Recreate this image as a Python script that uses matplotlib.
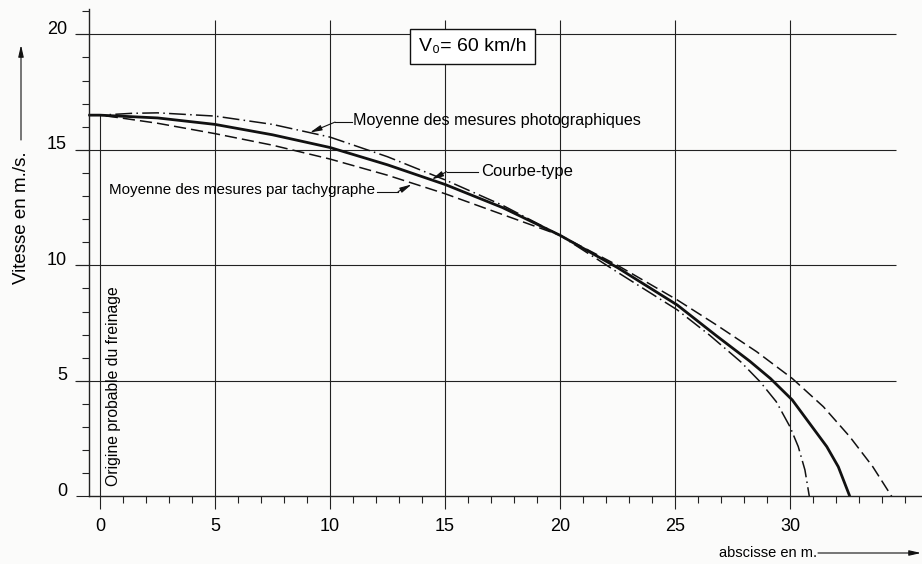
import numpy as np
import matplotlib.pyplot as plt
from matplotlib.ticker import MultipleLocator, FixedLocator
from matplotlib.transforms import ScaledTranslation

plt.rcParams['font.family'] = ['Liberation Sans', 'DejaVu Sans']

# valeurs (abscisse en m, vitesse en m/s)
x_type = [-0.5, 0, 2.5, 5, 7.5, 10, 12.5, 15, 17.5, 20, 22.5, 25.1, 26.8, 28.25, 29.15, 30.1, 30.85, 31.6, 32.1, 32.6]
v_type = [16.5, 16.5, 16.38, 16.1, 15.65, 15.1, 14.35, 13.5, 12.5, 11.3, 9.9, 8.28, 6.95, 5.85, 5.1, 4.17, 3.16, 2.15, 1.28, 0]

x_photo = [-0.5, 0, 1.4, 2.5, 5, 7.5, 10, 12.5, 15, 17.5, 20, 22.5, 25.1, 26.5, 27.85, 28.7, 29.4, 30.0, 30.36, 30.65, 30.84]
v_photo = [16.5, 16.5, 16.58, 16.6, 16.46, 16.1, 15.55, 14.7, 13.7, 12.6, 11.3, 9.7, 8.07, 6.98, 5.83, 4.96, 4.1, 3.01, 2.15, 1.14, 0]

x_tachy = [-0.5, 0, 0.9, 2.5, 5, 7.5, 10, 12.5, 15, 17.5, 20, 22.5, 25.1, 26.8, 28.55, 30.1, 31.45, 32.6, 33.6, 34.42]
v_tachy = [16.5, 16.5, 16.38, 16.15, 15.7, 15.2, 14.6, 13.9, 13.1, 12.2, 11.3, 10.0, 8.5, 7.42, 6.26, 5.1, 3.88, 2.58, 1.28, 0]

xticks = [0, 5, 10, 15, 20, 25, 30]
yticks = [0, 5, 10, 15, 20]

fig = plt.figure(figsize=(9.22, 5.64), dpi=100, facecolor='#fbfbfa')
ax = fig.add_axes([88.5 / 922, (564 - 496.3) / 564, (922 - 88.5) / 922, (496.3 - 8.9) / 564])
ax.set_facecolor('none')
ax.set_xlim(-0.5, 35.74)
ax.set_ylim(0, 21.1)

for s in ['top', 'right']:
    ax.spines[s].set_visible(False)
for s in ['left', 'bottom']:
    ax.spines[s].set_linewidth(1.0)
    ax.spines[s].set_color('#222222')

ax.xaxis.set_major_locator(FixedLocator(xticks))
ax.yaxis.set_major_locator(FixedLocator(yticks))
ax.xaxis.set_minor_locator(MultipleLocator(1))
ax.yaxis.set_minor_locator(MultipleLocator(1))
ax.tick_params(which='major', length=9.4, width=0.8, color='#222222', labelsize=13, pad=6)
ax.tick_params(which='minor', length=5.2, width=0.8, color='#222222')
ax.tick_params(axis='x', which='major', pad=6)
ax.set_xticklabels([str(t) for t in xticks])
ax.set_yticklabels([str(t) for t in yticks])
for lbl in ax.get_yticklabels():
    lbl.set_transform(lbl.get_transform() + ScaledTranslation(0, 7 / 100, fig.dpi_scale_trans))

# quadrillage
ax.hlines(yticks[1:], -1.1, 34.6, color='#222222', lw=0.8, clip_on=False)
ax.vlines(xticks[1:], 0, 20.6, color='#222222', lw=0.8)
ax.vlines(0, 0, 16.5, color='#222222', lw=0.8)

# courbes
ax.plot(x_type, v_type, color='#111111', lw=2.0, clip_on=False, solid_capstyle='butt',
        solid_joinstyle='round')
ax.plot(x_photo, v_photo, color='#111111', lw=1.1, dashes=(11, 2.8, 1, 2.8), clip_on=False)
ax.plot(x_tachy, v_tachy, color='#111111', lw=1.1, dashes=(8, 3.3), clip_on=False)

arrow = dict(arrowstyle='-|>,head_length=0.7,head_width=0.16', color='#111111', lw=0.8,
             shrinkA=0, shrinkB=0)

# Moyenne des mesures photographiques
ax.plot([10.96, 10.22], [16.2, 16.2], color='#111111', lw=0.8)
ax.annotate('', xy=(9.13, 15.75), xytext=(10.22, 16.2), arrowprops=arrow)
ax.text(11.0, 16.25, 'Moyenne des mesures photographiques', fontsize=11.6, ha='left', va='center')

# Courbe-type
ax.plot([16.45, 15.07], [14.05, 14.05], color='#111111', lw=0.8)
ax.annotate('', xy=(14.42, 13.72), xytext=(15.07, 14.05), arrowprops=arrow)
ax.text(16.55, 14.05, 'Courbe-type', fontsize=12, ha='left', va='center')

# Moyenne des mesures par tachygraphe
ax.plot([12.04, 12.96], [13.19, 13.19], color='#111111', lw=0.8)
ax.annotate('', xy=(13.55, 13.5), xytext=(12.96, 13.19), arrowprops=arrow)
ax.text(11.95, 13.25, 'Moyenne des mesures par tachygraphe', fontsize=10.9, ha='right', va='center')

ax.text(0.58, 0.45, 'Origine probable du freinage', rotation=90, fontsize=11.3,
        ha='center', va='bottom')

ax.text(16.2, 19.47, 'V₀= 60 km/h', fontsize=14, ha='center', va='center',
        bbox=dict(boxstyle='square,pad=0.45', fc='white', ec='#111111', lw=1.0))

# titres des axes avec fleches
fig.text(21 / 922, (564 - 218) / 564, 'Vitesse en m./s.', rotation=90, fontsize=13.5,
         ha='center', va='center')
ax.annotate('', xy=(21, 564 - 45), xytext=(21, 564 - 140), xycoords='figure pixels',
            arrowprops=arrow)
fig.text(768 / 922, 11 / 564, 'abscisse en m.', fontsize=10.5, ha='center', va='center')
ax.annotate('', xy=(921, 11), xytext=(818, 11), xycoords='figure pixels', arrowprops=arrow)

fig.savefig('out.png', dpi=100, facecolor=fig.get_facecolor())
